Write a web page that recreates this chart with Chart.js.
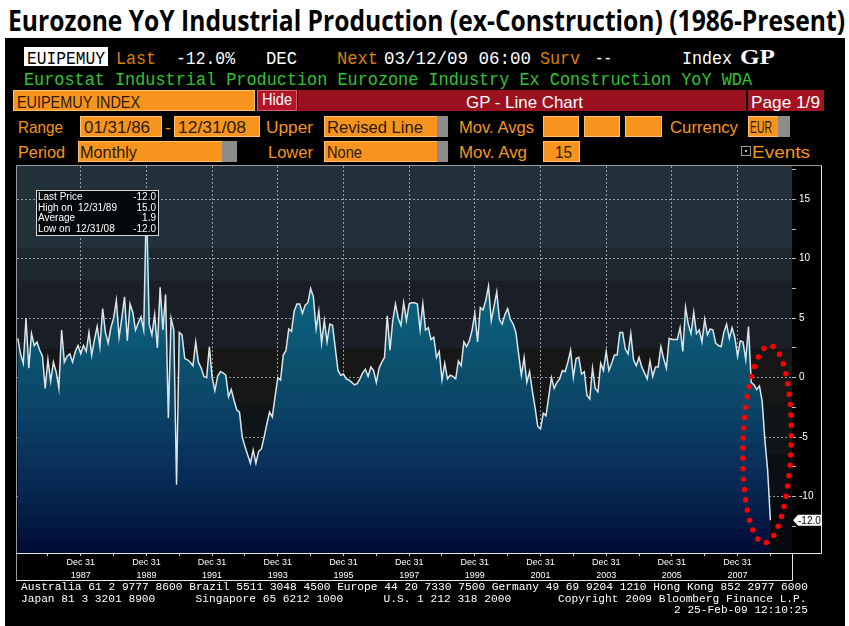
<!DOCTYPE html>
<html>
<head>
<meta charset="utf-8">
<script src="https://cdn.jsdelivr.net/npm/chart.js@4.4.1/dist/chart.umd.min.js"></script>
<style>
  html, body { margin: 0; padding: 0; width: 849px; height: 626px; overflow: hidden; background: #fff; }
  #term { position: absolute; left: 5px; top: 38px; width: 840px; height: 588px; background: #000; }
  .t { position: absolute; white-space: pre; line-height: 1; transform-origin: 0 0; }
  .b { position: absolute; box-sizing: border-box; }
  #chart { position: absolute; left: 15px; top: 164px; }
</style>
</head>
<body>
<div id="term"></div>
<canvas id="chart" width="808" height="419"></canvas>
<script>
// monthly YoY % change, Jan 1986 .. Dec 2008
const startYear = 1986;
const ipYoY = [
  3.3, 2.0, 1.2, 5.0, 0.8, 3.7, 2.7, 3.0, 2.3, 1.8, -0.9, 1.5,     // 1986
  -0.3, 1.3, 0.5, -0.9, 4.0, 1.3, 1.8, 2.0, 1.3, 2.2, 2.7, 2.0,    // 1987
  2.7, 2.2, 3.8, 1.9, 3.2, 4.3, 2.6, 5.8, 3.8, 2.9, 4.2, 5.0,      // 1988
  6.5, 3.4, 5.0, 6.8, 3.1, 6.2, 5.5, 4.0, 4.6, 5.1, 4.0, 15.0,     // 1989
  4.5, 3.6, 5.3, 2.5, 7.6, 4.0, 7.0, -3.4, 5.0, 4.0, -9.0, 3.8,    // 1990
  3.6, 1.6, 1.5, 1.3, 1.0, 3.0, 1.3, 0.8, 0.1, 0.0, 2.6, 0.0,      // 1991
  -1.1, 0.1, 0.5, 0.4, 0.2, -1.6, -1.0, -1.9, -2.7, -2.9, -5.0, -5.8, // 1992
  -6.5, -7.2, -6.1, -7.2, -6.2, -6.0, -5.0, -3.9, -2.9, -3.3, -1.6, 0.0, // 1993
  -0.2, 1.9, 2.3, 4.1, 3.9, 5.6, 6.2, 6.2, 5.4, 6.1, 6.3, 7.5,     // 1994
  6.8, 4.1, 5.6, 2.9, 4.8, 3.0, 4.5, 4.4, 2.5, 0.6, 0.2, 0.3,      // 1995
  -0.1, -0.2, -0.4, -0.6, -0.5, -0.1, 0.4, 0.7, 0.1, 0.9, 0.6, -0.4, // 1996
  0.8, 1.3, 1.7, 5.2, 2.3, 4.8, 6.2, 5.0, 4.4, 6.3, 4.8, 6.2,      // 1997
  6.3, 6.3, 6.2, 4.0, 6.2, 4.0, 4.2, 3.2, 3.4, 1.7, 2.2, -0.2,     // 1998
  1.2, -0.1, 0.2, 0.1, -0.1, 1.4, 1.0, 3.0, 2.6, 3.1, 4.0, 5.4,    // 1999
  3.0, 5.9, 5.7, 6.5, 7.7, 4.8, 6.0, 7.2, 4.9, 4.5, 5.3, 5.8,      // 2000
  4.9, 4.5, 3.8, 2.0, 0.2, 1.7, -0.4, 0.5, -1.1, -2.5, -4.1, -4.3, // 2001
  -3.0, -3.2, -1.6, 0.0, -0.9, -0.4, -0.1, 0.6, 0.5, 1.3, 2.3, 0.0, // 2002
  1.6, 1.7, 0.3, 0.5, -1.5, -1.8, 0.8, -0.9, -1.2, 1.2, 0.6, 2.2,  // 2003
  0.6, 1.2, 1.9, 1.9, 3.8, 3.8, 2.4, 2.0, 3.7, 1.5, 1.0, 1.7,      // 2004
  0.9, 0.4, -0.1, 1.4, 0.1, 0.9, 0.9, 2.6, 1.6, 0.8, 3.3, 3.2,     // 2005
  3.2, 3.2, 4.2, 2.2, 5.9, 4.5, 3.7, 5.5, 3.7, 4.0, 3.0, 4.9,      // 2006
  3.6, 4.1, 4.0, 2.9, 2.7, 2.6, 3.8, 4.5, 3.3, 4.2, 3.4, 1.8,      // 2007
  3.1, 3.0, 1.5, 4.3, -0.4, -0.6, -1.0, -0.7, -2.0, -5.3, -7.8, -12.0 // 2008
];
const labelYears = [1987, 1989, 1991, 1993, 1995, 1997, 1999, 2001, 2003, 2005, 2007];
const tickYears = [1986, 1987, 1988, 1989, 1990, 1991, 1992, 1993, 1994, 1995, 1996,
  1997, 1998, 1999, 2000, 2001, 2002, 2003, 2004, 2005, 2006, 2007, 2008];
const yLabels = [-10, -5, 0, 5, 10, 15];
const statRows = [
  ['Last Price', '-12.0'],
  ['High on  12/31/89', '15.0'],
  ['Average', '1.9'],
  ['Low on  12/31/08', '-12.0']
];

// ---------- terminal header / footer text ----------
function txt(s, x, top, w, size, color, family, weight) {
  const el = document.createElement('div');
  el.className = 't';
  el.textContent = s;
  el.style.left = x + 'px';
  el.style.top = top + 'px';
  el.style.fontSize = size + 'px';
  el.style.color = color;
  el.style.fontFamily = family;
  if (weight) el.style.fontWeight = weight;
  document.body.appendChild(el);
  if (w) {
    const r = w / el.getBoundingClientRect().width;
    el.style.transform = 'scaleX(' + r + ')';
  }
  return el;
}
function box(x, y, w, h, bg, border) {
  const el = document.createElement('div');
  el.className = 'b';
  el.style.left = x + 'px';
  el.style.top = y + 'px';
  el.style.width = w + 'px';
  el.style.height = h + 'px';
  el.style.background = bg;
  if (border) el.style.border = border;
  document.body.appendChild(el);
  return el;
}

const MONO = '"Liberation Mono", "DejaVu Sans Mono", monospace';
const NARROW = '"Liberation Sans Narrow", "Liberation Sans", sans-serif';
const ORANGE = '#f5961c';
const DARKORANGE = '#d98200';
const BOXTXT = '#2a1a00';

txt('Eurozone YoY Industrial Production (ex-Construction) (1986-Present)', 8, 5, 837, 29, '#000', '"Open Sans", sans-serif', 700);

// row 1
box(24, 47, 84, 19, '#fff');
txt('EUIPEMUY', 27, 49.5, 78, 19, '#000', MONO);
txt('Last', 116, 49.5, 40, 19, DARKORANGE, MONO);
txt('-12.0%', 176, 49.5, 59, 19, '#fff', MONO);
txt('DEC', 266, 49.5, 31, 19, '#fff', MONO);
txt('Next', 337, 49.5, 41, 19, DARKORANGE, MONO);
txt('03/12/09 06:00', 384, 49.5, 147, 19, '#fff', MONO);
txt('Surv', 540, 49.5, 40, 19, DARKORANGE, MONO);
txt('--', 595, 49.5, 17, 19, '#fff', MONO);
txt('Index', 682, 49.5, 50, 19, '#fff', MONO);
txt('GP', 740, 47, 35, 21, '#fff', '"Liberation Serif", serif', 700);

// row 2
txt('Eurostat Industrial Production Eurozone Industry Ex Construction YoY WDA', 24, 71, 728, 19, '#2fc42f', MONO);

// row 3
box(13, 90, 242, 21, '#f7941d', '1px solid #ffc070');
txt('EUIPEMUY INDEX', 17, 93.5, 123, 17, BOXTXT, NARROW);
box(257, 90, 40, 21, '#b3142a', '1px solid #d06070');
txt('Hide', 262, 92, 30, 16, '#fff', NARROW);
box(298, 90, 448, 21, '#9b1120');
txt('GP - Line Chart', 466, 93.5, 117, 17, '#fff', NARROW);
box(748, 90, 76, 21, '#a31222');
txt('Page 1/9', 751, 93.5, 69, 17, '#fff', NARROW);

// row 4
txt('Range', 18, 118.5, 45, 17, ORANGE, NARROW);
box(80, 116, 82, 21, '#f7941d', '1px solid #ffc070');
txt('01/31/86', 84, 118.5, 66, 17, BOXTXT, NARROW);
txt('-', 165, 118.5, 6, 17, ORANGE, NARROW);
box(174, 116, 86, 21, '#f7941d', '1px solid #ffc070');
txt('12/31/08', 178, 118.5, 68, 17, BOXTXT, NARROW);
txt('Upper', 266, 118.5, 47, 17, ORANGE, NARROW);
box(324, 116, 124, 21, '#f7941d', '1px solid #ffc070');
box(437, 116, 11, 21, '#8c8c8c');
txt('Revised Line', 327, 118.5, 96, 17, BOXTXT, NARROW);
txt('Mov. Avgs', 459, 118.5, 75, 17, ORANGE, NARROW);
box(543, 116, 36, 21, '#f7941d', '1px solid #ffc070');
box(584, 116, 36, 21, '#f7941d', '1px solid #ffc070');
box(625, 116, 37, 21, '#f7941d', '1px solid #ffc070');
txt('Currency', 670, 118.5, 68, 17, ORANGE, NARROW);
box(748, 116, 42, 21, '#f7941d', '1px solid #ffc070');
box(778, 116, 12, 21, '#8c8c8c');
txt('EUR', 750, 118.5, 22, 17, BOXTXT, NARROW);

// row 5
txt('Period', 18, 143.5, 47, 17, ORANGE, NARROW);
box(78, 141, 159, 21, '#f7941d', '1px solid #ffc070');
box(222, 141, 15, 21, '#8c8c8c');
txt('Monthly', 80, 143.5, 57, 17, BOXTXT, NARROW);
txt('Lower', 268, 143.5, 45, 17, ORANGE, NARROW);
box(324, 141, 124, 21, '#f7941d', '1px solid #ffc070');
box(437, 141, 11, 21, '#8c8c8c');
txt('None', 327, 143.5, 35, 17, BOXTXT, NARROW);
txt('Mov. Avg', 459, 143.5, 68, 17, ORANGE, NARROW);
box(543, 141, 37, 21, '#f7941d', '1px solid #ffc070');
txt('15', 555, 143.5, 17, 17, BOXTXT, NARROW);
box(741, 146, 10, 10, '#000', '1px solid #9a9a9a');
box(745, 150, 2, 2, '#bbb');
txt('Events', 752, 143.5, 58, 17, ORANGE, NARROW);

// footer
txt('Australia 61 2 9777 8600 Brazil 5511 3048 4500 Europe 44 20 7330 7500 Germany 49 69 9204 1210 Hong Kong 852 2977 6000', 21, 582, 787, 11.2, '#fff', MONO);
txt('Japan 81 3 3201 8900      Singapore 65 6212 1000      U.S. 1 212 318 2000       Copyright 2009 Bloomberg Finance L.P.', 21, 593.5, 0, 11.2, '#fff', MONO);
txt('2 25-Feb-09 12:10:25', 674, 605, 134, 11.2, '#fff', MONO);

// ---------- chart ----------
const TICKFONT = '"Liberation Sans", sans-serif';

// banded colour ramp (Bloomberg style steps)
function hexToRgb(h) { return [1, 3, 5].map(k => parseInt(h.substr(k, 2), 16)); }
function bandGradient(ctx, area, anchors, bands) {
  const g = ctx.createLinearGradient(0, area.top, 0, area.bottom);
  for (let b = 0; b < bands; b++) {
    const f = (b + 0.5) / bands;
    let k = 0;
    while (k < anchors.length - 2 && f > anchors[k + 1][0]) k++;
    const [f0, c0] = anchors[k], [f1, c1] = anchors[k + 1];
    const t = Math.min(1, Math.max(0, (f - f0) / (f1 - f0)));
    const a = hexToRgb(c0), c = hexToRgb(c1);
    const col = 'rgb(' + a.map((v, i) => Math.round(v + (c[i] - v) * t)).join(',') + ')';
    g.addColorStop(b / bands, col);
    g.addColorStop((b + 1) / bands, col);
  }
  return g;
}
const fillRamp = [[0, '#147a95'], [0.35, '#0b627e'], [0.55, '#0b4d6b'], [0.71, '#0a3860'], [0.86, '#06244e'], [1, '#010a34']];
const bgSteps = [[0, '#23313a'], [0.212, '#1d2830'], [0.297, '#1a1e26'], [0.473, '#171717'], [0.612, '#101618'], [0.747, '#0b0f14'], [0.863, '#06090e']];

const areaBg = {
  id: 'areaBg',
  beforeDraw(chart) {
    const { ctx, chartArea: a } = chart;
    const h = a.bottom - a.top;
    ctx.save();
    bgSteps.forEach(([f, col], i) => {
      const f2 = i + 1 < bgSteps.length ? bgSteps[i + 1][0] : 1;
      ctx.fillStyle = col;
      ctx.fillRect(a.left, a.top + f * h, a.right - a.left, (f2 - f) * h + 0.5);
    });
    ctx.restore();
  }
};

const frame = {
  id: 'frame',
  afterDraw(chart) {
    const { ctx, chartArea: a } = chart;
    const yAx = chart.scales.y, xAx = chart.scales.x;
    ctx.save();
    ctx.lineWidth = 1;
    ctx.strokeStyle = '#9a9a9a';
    ctx.beginPath();
    ctx.moveTo(a.left - 0.5, xAx.bottom - 0.5);
    ctx.lineTo(a.left - 0.5, a.top - 0.5);
    ctx.lineTo(yAx.right - 0.5, a.top - 0.5);
    ctx.stroke();
    ctx.strokeStyle = '#e8e8e8';
    ctx.beginPath();
    ctx.moveTo(yAx.right - 0.5, a.top - 0.5);
    ctx.lineTo(yAx.right - 0.5, a.bottom + 0.5);
    ctx.lineTo(a.right + 0.5, a.bottom + 0.5);
    ctx.moveTo(a.left - 0.5, a.bottom + 0.5);
    ctx.lineTo(a.right + 0.5, a.bottom + 0.5);
    ctx.lineTo(a.right + 0.5, xAx.bottom - 1.5);
    ctx.lineTo(a.left - 0.5, xAx.bottom - 1.5);
    ctx.stroke();
    ctx.restore();
  }
};

const statBox = {
  id: 'statBox',
  afterDatasetsDraw(chart) {
    const { ctx, chartArea: a } = chart;
    const x0 = a.left + 19, y0 = a.top + 24, w = 123, h = 46;
    ctx.save();
    ctx.fillStyle = '#05080b';
    ctx.fillRect(x0, y0, w, h);
    ctx.strokeStyle = '#d8d8d8';
    ctx.lineWidth = 1;
    ctx.strokeRect(x0 + 0.5, y0 + 0.5, w - 1, h - 1);
    ctx.fillStyle = '#fff';
    ctx.font = '10px ' + TICKFONT;
    ctx.textBaseline = 'middle';
    statRows.forEach(([k, v], i) => {
      const yy = y0 + 7.5 + i * 10.5;
      ctx.textAlign = 'left';
      ctx.fillText(k, x0 + 2, yy);
      ctx.textAlign = 'right';
      ctx.fillText(v, x0 + w - 3, yy);
    });
    ctx.restore();
  }
};

const lastTag = {
  id: 'lastTag',
  afterDraw(chart) {
    const { ctx, chartArea: a } = chart;
    const last = ipYoY[ipYoY.length - 1];
    const y = chart.scales.y.getPixelForValue(last);
    const x0 = a.right + 1;
    ctx.save();
    ctx.fillStyle = '#fff';
    ctx.beginPath();
    ctx.moveTo(x0, y);
    ctx.lineTo(x0 + 5, y - 5.5);
    ctx.lineTo(x0 + 29, y - 5.5);
    ctx.lineTo(x0 + 29, y + 5.5);
    ctx.lineTo(x0 + 5, y + 5.5);
    ctx.closePath();
    ctx.fill();
    ctx.fillStyle = '#000';
    ctx.font = '10px ' + TICKFONT;
    ctx.textAlign = 'left';
    ctx.textBaseline = 'middle';
    ctx.fillText(last.toFixed(1), x0 + 5, y + 0.5);
    ctx.restore();
  }
};

// red dotted ring around the 2008 collapse (centre/radii in data units)
const ring = {
  id: 'ring',
  afterDraw(chart) {
    const { ctx } = chart;
    const xs = chart.scales.x, ys = chart.scales.y;
    const cx = xs.getPixelForValue(273.8), cy = ys.getPixelForValue(-5.6);
    const rx = xs.getPixelForValue(273.8 + 8.8) - cx;
    const ry = ys.getPixelForValue(-5.6) - ys.getPixelForValue(2.7);
    ctx.save();
    ctx.strokeStyle = '#ff0000';
    ctx.lineWidth = 5.5;
    ctx.lineCap = 'round';
    ctx.setLineDash([0, 10.3]);
    ctx.beginPath();
    ctx.ellipse(cx, cy, rx, ry, 0.03, 0, Math.PI * 2);
    ctx.stroke();
    ctx.restore();
  }
};

const decMonth = yr => (yr - startYear) * 12 + 11;
const yTickVals = [];
for (let v = -12.5; v <= 17.5; v += 2.5) yTickVals.push(v);

new Chart(document.getElementById('chart').getContext('2d'), {
  type: 'line',
  data: {
    datasets: [{
      data: ipYoY.map((v, i) => ({ x: i, y: v })),
      borderColor: '#dde4e8',
      borderWidth: 1.5,
      pointRadius: 0,
      tension: 0,
      fill: 'start',
      backgroundColor: ctx => {
        const a = ctx.chart.chartArea;
        if (!a) return 'transparent';
        return bandGradient(ctx.chart.ctx, a, fillRamp, 32);
      }
    }]
  },
  options: {
    responsive: false,
    animation: false,
    devicePixelRatio: 1,
    layout: { padding: { left: 2, top: 2, right: 1, bottom: 1 } },
    plugins: { legend: { display: false }, tooltip: { enabled: false } },
    scales: {
      x: {
        type: 'linear',
        min: -0.3,
        max: 282.9,
        z: 1,
        afterBuildTicks: s => { s.ticks = tickYears.map(yr => ({ value: decMonth(yr) })); },
        afterFit: s => { s.height = 29; s.paddingLeft = 0; s.paddingRight = 0; },
        ticks: {
          autoSkip: false,
          maxRotation: 0,
          color: '#fff',
          padding: 0,
          font: { family: TICKFONT, size: 9, lineHeight: 1.45 },
          callback: v => {
            const yr = startYear + (v - 11) / 12;
            return labelYears.includes(yr) ? ['Dec 31', String(yr)] : '';
          }
        },
        grid: {
          color: c => (c.tick && labelYears.includes(startYear + (c.tick.value - 11) / 12)) ? 'rgba(190,196,202,0.75)' : 'transparent',
          lineWidth: 1,
          tickColor: '#cfcfcf',
          tickLength: 3
        },
        border: { display: false, dash: [2, 2] }
      },
      y: {
        position: 'right',
        min: -14.75,
        max: 17.8,
        z: 1,
        afterBuildTicks: s => { s.ticks = yTickVals.map(v => ({ value: v })); },
        afterFit: s => { s.width = 30; s.paddingTop = 0; s.paddingBottom = 0; },
        ticks: {
          color: '#fff',
          padding: 3,
          font: { family: TICKFONT, size: 10 },
          callback: v => yLabels.includes(v) ? String(v) : ''
        },
        grid: {
          color: c => (c.tick && yLabels.includes(c.tick.value)) ? 'rgba(190,196,202,0.75)' : 'transparent',
          lineWidth: 1,
          tickColor: '#bdbdbd',
          tickLength: 4
        },
        border: { display: false, dash: [2, 2] }
      }
    }
  },
  plugins: [areaBg, statBox, frame, lastTag, ring]
});
</script>
</body>
</html>
